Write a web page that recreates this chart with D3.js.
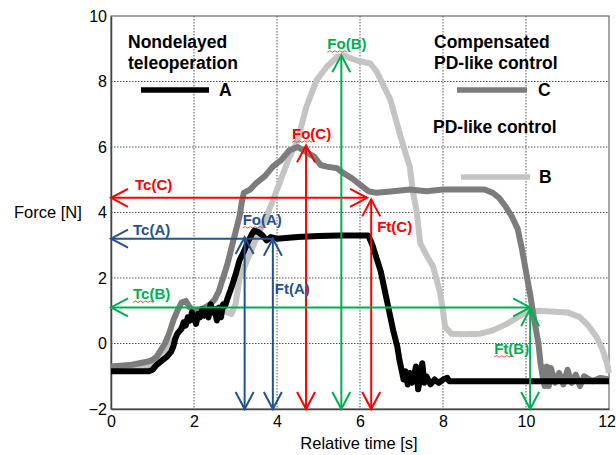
<!DOCTYPE html>
<html>
<head>
<meta charset="utf-8">
<title>Force vs relative time</title>
<script src="https://d3js.org/d3.v7.min.js"></script>
<style>
  body { margin: 0; background: #fff; }
  text { font-family: Arial, "Liberation Sans", sans-serif; }
</style>
</head>
<body>
<svg id="chart" width="616" height="455"></svg>
<script>
// ---- data (time [s], force [N]) ----
var xTicks = [0, 2, 4, 6, 8, 10, 12];
var yTicks = [-2, 0, 2, 4, 6, 8, 10];

// A : nondelayed teleoperation
var seriesA = [
  [0,-0.85],[0.9,-0.85],[1.0,-0.8],[1.1,-0.65],[1.25,-0.5],[1.35,-0.4],[1.45,-0.25],[1.5,-0.1],
  [1.55,0.15],[1.6,0.3],[1.7,0.45],[1.75,0.65],[1.8,0.55],[1.85,0.8],[1.9,0.7],[1.95,0.95],
  [2.0,0.75],[2.05,0.6],[2.1,0.9],[2.15,0.8],[2.2,1.05],[2.25,0.85],[2.3,1.0],[2.35,0.8],
  [2.4,1.2],[2.45,0.95],[2.5,1.05],[2.55,0.7],[2.6,1.1],[2.65,0.8],[2.7,1.2],[2.75,1.15],
  [2.8,1.35],[2.9,1.7],[3.0,2.1],[3.1,2.55],[3.2,2.8],[3.3,3.1],[3.4,3.35],[3.45,3.45],
  [3.55,3.4],[3.65,3.3],[3.75,3.15],[3.85,3.25],[4.0,3.2],[4.5,3.25],[5.0,3.28],[5.5,3.3],
  [6.2,3.3],[6.3,3.0],[6.4,2.6],[6.5,2.2],[6.6,1.6],[6.7,1.0],[6.8,0.4],[6.9,-0.1],
  [6.95,-0.5],[7.0,-0.8],[7.05,-1.1],[7.1,-0.85],[7.15,-1.25],[7.2,-0.9],[7.25,-1.2],[7.3,-1.0],
  [7.35,-0.7],[7.4,-1.4],[7.45,-1.05],[7.5,-0.6],[7.55,-1.2],[7.6,-1.0],[7.7,-1.25],[7.8,-1.1],
  [7.9,-1.2],[8.0,-1.1],[8.1,-1.05],[8.15,-1.15],[12,-1.15]
];

// B : PD-like control
var seriesB = [
  [0,-0.75],[0.9,-0.75],[1.1,-0.55],[1.3,-0.3],[1.5,0.1],[1.7,0.5],[1.9,0.7],[2.1,0.8],
  [2.3,0.9],[2.5,0.95],[2.7,1.0],[2.9,0.9],[3.0,1.2],[3.1,2.0],[3.3,2.6],[3.5,3.2],
  [3.75,3.9],[3.85,4.2],[4.0,4.7],[4.15,5.2],[4.3,5.7],[4.5,6.2],[4.6,6.7],[4.7,7.2],
  [4.85,7.7],[4.96,8.05],[5.2,8.45],[5.45,8.75],[5.6,8.8],[5.9,8.65],[6.25,8.55],[6.4,8.3],
  [6.5,8.05],[6.73,7.45],[6.96,6.4],[7.1,5.8],[7.2,5.4],[7.28,4.6],[7.37,4.0],[7.45,3.07],
  [7.6,2.7],[7.76,2.35],[7.93,1.55],[8.0,1.0],[8.05,0.5],[8.2,0.3],[8.5,0.28],[8.9,0.3],
  [9.2,0.4],[9.54,0.6],[9.8,0.8],[10.0,0.95],[10.3,1.0],[11.0,0.95],[11.3,0.8],[11.5,0.55],
  [11.7,0.2],[11.85,-0.2],[11.95,-0.6],[12,-0.9]
];

// C : compensated PD-like control
var seriesC = [
  [0,-0.7],[0.5,-0.65],[0.9,-0.55],[1.0,-0.5],[1.1,-0.4],[1.2,-0.2],[1.3,0.0],[1.4,0.3],
  [1.5,0.7],[1.6,1.0],[1.7,1.25],[1.8,1.3],[1.9,1.1],[2.0,1.0],[2.2,1.05],[2.4,1.2],
  [2.5,1.35],[2.6,1.6],[2.7,2.0],[2.8,2.4],[2.9,2.9],[3.0,3.4],[3.1,3.9],[3.15,4.3],
  [3.2,4.6],[3.35,4.7],[3.5,4.9],[3.7,5.1],[3.9,5.4],[4.1,5.6],[4.3,5.9],[4.5,6.0],
  [4.7,5.85],[4.9,5.7],[5.05,5.45],[5.2,5.4],[5.45,5.35],[5.6,5.2],[5.8,5.05],[6.0,4.85],
  [6.2,4.65],[6.4,4.6],[6.8,4.65],[7.2,4.7],[7.6,4.65],[8.0,4.7],[8.5,4.7],[9.0,4.7],
  [9.2,4.6],[9.35,4.45],[9.5,4.2],[9.65,3.9],[9.8,3.5],[9.9,2.9],[10.0,2.2],[10.1,1.5],
  [10.2,0.7],[10.3,0.0],[10.35,-0.6],[10.4,-1.0],[10.45,-1.3],[10.5,-0.7],[10.55,-1.3],[10.6,-0.75],
  [10.7,-1.2],[10.8,-0.9],[10.9,-1.25],[11.0,-0.8],[11.1,-1.2],[11.2,-0.95],[11.3,-1.3],[11.4,-1.0],
  [11.6,-1.15],[11.8,-1.05],[12,-1.1]
];

// annotation arrows: name, series, start/end in data units, heads
var arrows = [
  {name:"Tc(C)", s:"C", x1:0,    y1:4.45, x2:6.17, y2:4.45, heads:"both"},
  {name:"Fo(C)", s:"C", x1:4.7,  y1:-2,   x2:4.7,  y2:6.05, heads:"both"},
  {name:"Ft(C)", s:"C", x1:6.27, y1:-2,   x2:6.27, y2:4.4,  heads:"both"},
  {name:"Fo(B)", s:"B", x1:5.55, y1:-2,   x2:5.55, y2:8.8,  heads:"both"},
  {name:"Tc(B)", s:"B", x1:0,    y1:1.1,  x2:10.1, y2:1.1,  heads:"both"},
  {name:"Ft(B)", s:"B", x1:10.1, y1:-2,   x2:10.1, y2:1.05, heads:"both"},
  {name:"Tc(A)", s:"A", x1:0,    y1:3.2,  x2:3.9,  y2:3.2,  heads:"start"},
  {name:"Fo(A)", s:"A", x1:3.22, y1:-2,   x2:3.22, y2:3.25, heads:"both"},
  {name:"Ft(A)", s:"A", x1:3.9,  y1:-2,   x2:3.9,  y2:3.2,  heads:"both"}
];

// ---- layout ----
var svg = d3.select("#chart");
var mLeft = 111, mRight = 609, mTop = 16, mBottom = 409;
var x = d3.scaleLinear().domain([0, 12]).range([mLeft, mRight]);
var y = d3.scaleLinear().domain([-2, 10]).range([mBottom, mTop]);

var arrowColor = {A:"#23538f", B:"#00b050", C:"#ff0000"};
var lineColor = {A:"#000000", B:"#c4c4c4", C:"#7c7c7c"};

// grid
svg.append("g").selectAll("line").data(xTicks.slice(1, -1)).enter().append("line")
  .attr("x1", d => x(d)).attr("x2", d => x(d)).attr("y1", mTop).attr("y2", mBottom)
  .attr("stroke", "#555").attr("stroke-width", 1).attr("stroke-dasharray", "1.5,1.5");
svg.append("g").selectAll("line").data(yTicks.slice(1, -1)).enter().append("line")
  .attr("x1", mLeft).attr("x2", mRight).attr("y1", d => y(d)).attr("y2", d => y(d))
  .attr("stroke", "#555").attr("stroke-width", 1).attr("stroke-dasharray", "1.5,1.5");

// frame
svg.append("rect").attr("x", mLeft).attr("y", mTop)
  .attr("width", mRight - mLeft).attr("height", mBottom - mTop)
  .attr("fill", "none").attr("stroke", "#6a6a6a").attr("stroke-width", 1.2);

// axes
var xAxis = svg.append("g").attr("transform", "translate(0," + mBottom + ")")
  .call(d3.axisBottom(x).tickValues(xTicks).tickSize(0).tickPadding(7).tickFormat(d3.format("d")));
var yAxis = svg.append("g").attr("transform", "translate(" + mLeft + ",0)")
  .call(d3.axisLeft(y).tickValues(yTicks).tickSize(0).tickPadding(4).tickFormat(d3.format("d")));
[xAxis, yAxis].forEach(function (g) {
  g.select(".domain").attr("stroke", "#444").attr("stroke-width", 1.5);
  g.selectAll("text").attr("font-size", 16).attr("fill", "#000")
    .attr("font-family", "Arial, 'Liberation Sans', sans-serif");
});
// last x label sits against the page edge
xAxis.selectAll(".tick text").filter(d => d == 12).attr("dx", "-0.15em");

svg.append("text").attr("x", 359).attr("y", 449).attr("text-anchor", "middle")
  .attr("font-size", 16.5).text("Relative time [s]");
svg.append("text").attr("x", 14).attr("y", 218)
  .attr("font-size", 16.5).text("Force [N]");

// curves
var line = d3.line().x(d => x(d[0])).y(d => y(d[1]));
[["B", seriesB], ["C", seriesC], ["A", seriesA]].forEach(function (s) {
  svg.append("path").datum(s[1]).attr("d", line)
    .attr("fill", "none").attr("stroke", lineColor[s[0]])
    .attr("stroke-width", 6)
    .attr("stroke-linejoin", "round").attr("stroke-linecap", "butt");
});

// arrows
function head(g, px, py, ang, col) {
  var len = 17, half = 9;
  var c = Math.cos(ang), s = Math.sin(ang);
  var pts = [[-len, -half], [0, 0], [-len, half]].map(function (p) {
    return [px + p[0] * c - p[1] * s, py + p[0] * s + p[1] * c];
  });
  g.append("path").attr("d", "M" + pts.join("L")).attr("fill", "none")
    .attr("stroke", col).attr("stroke-width", 2);
}

// label offsets (pixels) relative to the arrow's start / end
var labelPos = {
  "Tc(C)": {at:"start", dx:24, dy:-8},
  "Tc(A)": {at:"start", dx:22, dy:-4},
  "Tc(B)": {at:"start", dx:22, dy:-8},
  "Fo(C)": {at:"end", dx:-14, dy:-6},
  "Fo(B)": {at:"end", dx:-14, dy:-6},
  "Fo(A)": {at:"end", dx:-2, dy:-12},
  "Ft(C)": {at:"end", dx:6, dy:33},
  "Ft(A)": {at:"end", dx:2, dy:55},
  "Ft(B)": {at:"end", dx:-36, dy:45}
};
var squiggle = ["Fo(C)", "Fo(B)", "Fo(A)", "Tc(B)", "Ft(B)"];

var ag = svg.append("g");
arrows.forEach(function (a) {
  var col = arrowColor[a.s];
  var x1 = x(a.x1), y1 = y(a.y1), x2 = x(a.x2), y2 = y(a.y2);
  ag.append("line").attr("x1", x1).attr("y1", y1).attr("x2", x2).attr("y2", y2)
    .attr("stroke", col).attr("stroke-width", 2);
  var ang = Math.atan2(y2 - y1, x2 - x1);
  head(ag, x1, y1, ang + Math.PI, col);
  if (a.heads == "both") head(ag, x2, y2, ang, col);

  var lp = labelPos[a.name];
  var bx = (lp.at == "start" ? x1 : x2) + lp.dx;
  var by = (lp.at == "start" ? y1 : y2) + lp.dy;
  ag.append("text").attr("x", bx).attr("y", by).attr("fill", col)
    .attr("font-size", 15).attr("font-weight", "bold").text(a.name);
  if (squiggle.indexOf(a.name) >= 0) {
    var d = "M" + bx + "," + (by + 3);
    for (var i = 1; i <= 8; i++) d += "L" + (bx + i * 2.5) + "," + (by + 3 + (i % 2 ? -1.5 : 0));
    ag.append("path").attr("d", d).attr("fill", "none").attr("stroke", "#e04040").attr("stroke-width", 0.9);
  }
});

// legend
var legend = [
  {lines:["Nondelayed", "teleoperation"], tx:128, ty:48, s:"A", lx1:141, lx2:209, ly:90, kx:219},
  {lines:["Compensated", "PD-like control"], tx:434, ty:48, s:"C", lx1:457, lx2:527, ly:90, kx:538},
  {lines:["PD-like control"], tx:433, ty:133, s:"B", lx1:461, lx2:530, ly:177, kx:539}
];
legend.forEach(function (l) {
  l.lines.forEach(function (t, i) {
    svg.append("text").attr("x", l.tx).attr("y", l.ty + i * 21)
      .attr("font-size", 17.5).attr("font-weight", "bold").attr("fill", "#000").text(t);
  });
  svg.append("line").attr("x1", l.lx1).attr("x2", l.lx2).attr("y1", l.ly).attr("y2", l.ly)
    .attr("stroke", lineColor[l.s]).attr("stroke-width", 5.5);
  svg.append("text").attr("x", l.kx).attr("y", l.ly + 6)
    .attr("font-size", 17.5).attr("font-weight", "bold").attr("fill", "#000").text(l.s);
});
</script>
</body>
</html>
